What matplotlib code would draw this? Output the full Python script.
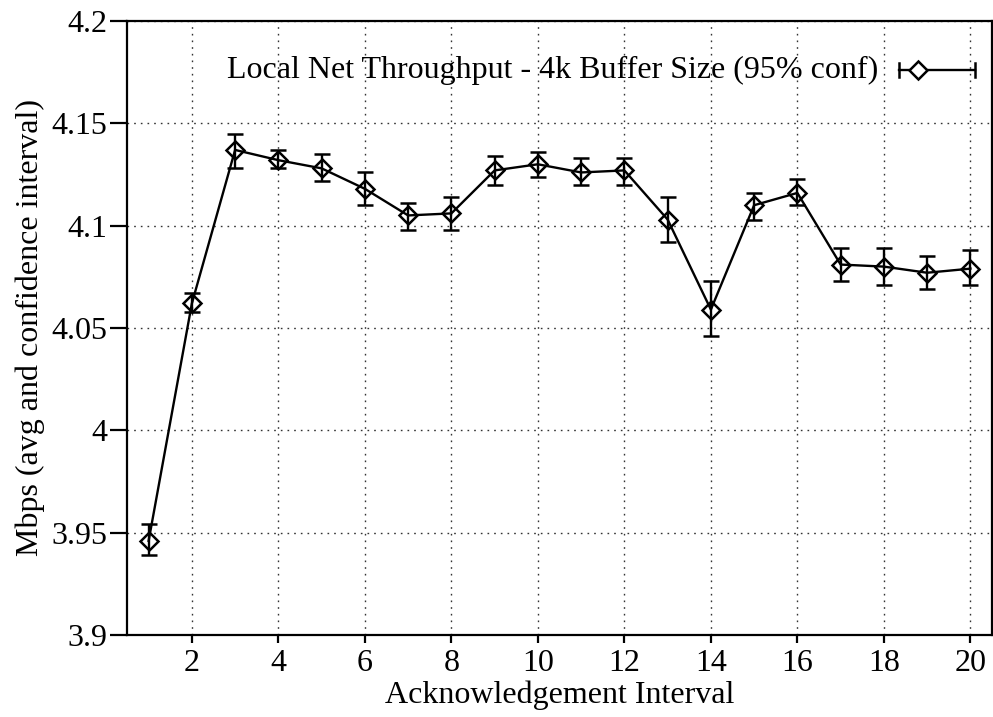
import matplotlib
matplotlib.use("Agg")
import matplotlib.pyplot as plt

plt.rcParams['font.family'] = ['Liberation Serif', 'DejaVu Serif']

ack_interval = list(range(1, 21))
throughput = [3.946, 4.062, 4.137, 4.132, 4.128, 4.118, 4.105, 4.106, 4.127, 4.130,
              4.126, 4.127, 4.103, 4.059, 4.110, 4.116, 4.081, 4.080, 4.077, 4.079]
conf_low = [3.939, 4.058, 4.128, 4.128, 4.122, 4.110, 4.098, 4.098, 4.120, 4.124,
            4.120, 4.120, 4.092, 4.046, 4.103, 4.110, 4.073, 4.071, 4.069, 4.071]
conf_high = [3.954, 4.067, 4.145, 4.137, 4.135, 4.126, 4.111, 4.114, 4.134, 4.136,
             4.133, 4.133, 4.114, 4.073, 4.116, 4.123, 4.089, 4.089, 4.085, 4.088]
x_ticks = [2, 4, 6, 8, 10, 12, 14, 16, 18, 20]
y_ticks = [3.9, 3.95, 4.0, 4.05, 4.1, 4.15, 4.2]
y_tick_labels = ['3.9', '3.95', '4', '4.05', '4.1', '4.15', '4.2']
series_label = 'Local Net Throughput - 4k Buffer Size (95% conf)'

FS = 23

fig = plt.figure(figsize=(9.93, 7.17), dpi=100)
ax = fig.add_axes([127 / 993, 1 - 635 / 717, (992 - 127) / 993, (635 - 21) / 717])

err_lo = [t - l for t, l in zip(throughput, conf_low)]
err_hi = [h - t for t, h in zip(throughput, conf_high)]
ax.errorbar(ack_interval, throughput, yerr=[err_lo, err_hi], color='black',
            linewidth=1.7, marker='D', markersize=9, markerfacecolor='none',
            markeredgewidth=1.8, ecolor='black', elinewidth=1.7, capsize=6,
            capthick=1.8, zorder=3)

ax.set_xlim(0.5, 20.5)
ax.set_ylim(3.9, 4.2)
ax.set_xticks(x_ticks)
ax.set_yticks(y_ticks)
ax.set_yticklabels(y_tick_labels)

ax.grid(True, color='#333333', linestyle=(0, (1.2, 3.6)), linewidth=1)
for sp in ax.spines.values():
    sp.set_linewidth(1.6)
ax.tick_params(axis='y', direction='out', length=12, width=1.6, labelsize=FS, pad=2)
ax.tick_params(axis='x', direction='out', length=6, width=1.6, labelsize=FS, pad=4)

ax.set_xlabel('Acknowledgement Interval', fontsize=FS, labelpad=2)
ax.set_ylabel('Mbps (avg and confidence interval)', fontsize=FS, labelpad=5)

# key: label text with a horizontal errorbar sample
key_y = 0.920
ax.text(0.869, key_y, series_label, transform=ax.transAxes, fontsize=FS,
        ha='right', va='center')
ax.plot([0.8925, 0.980], [key_y, key_y], transform=ax.transAxes, color='black',
        linewidth=1.7, clip_on=False)
for cx in (0.8925, 0.980):
    ax.plot([cx, cx], [key_y - 0.012, key_y + 0.012], transform=ax.transAxes,
            color='black', linewidth=1.8, clip_on=False)
ax.plot([0.9145], [key_y], transform=ax.transAxes, marker='D', markersize=9,
        markerfacecolor='white', markeredgecolor='black', markeredgewidth=1.8,
        clip_on=False)

fig.savefig('out.png', dpi=100)
